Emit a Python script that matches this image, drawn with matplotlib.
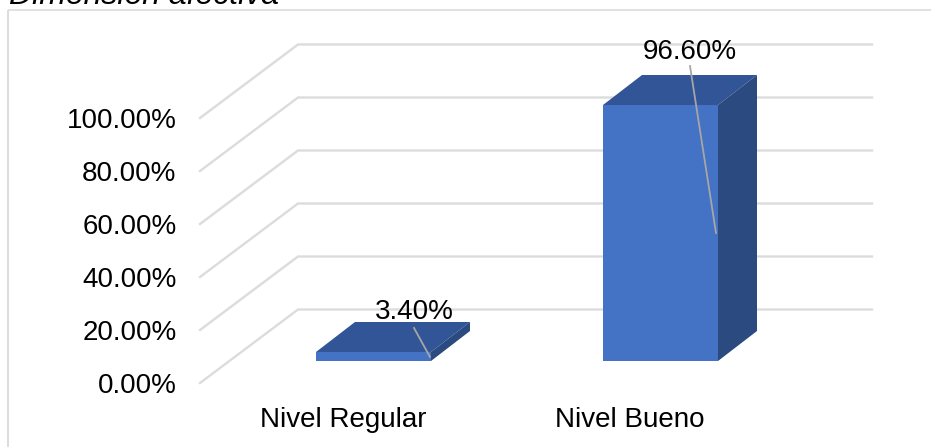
import matplotlib
matplotlib.use("Agg")
import matplotlib.pyplot as plt
from matplotlib.patches import Polygon

plt.rcParams['font.family'] = ['Liberation Sans', 'DejaVu Sans']

categories = ["Nivel Regular", "Nivel Bueno"]
values = [3.40, 96.60]
value_labels = ["3.40%", "96.60%"]
y_ticks = [0, 20, 40, 60, 80, 100]
y_tick_labels = ["0.00%", "20.00%", "40.00%", "60.00%", "80.00%", "100.00%"]
title = "Dimensión afectiva"

W, H = 931, 447
DPI = 100
fig = plt.figure(figsize=(W / DPI, H / DPI), dpi=DPI, facecolor="white")
ax = fig.add_axes([0, 0, 1, 1])
ax.axis("off")

# pixel helpers: data x = category position, data y = percent in the bars' depth plane
PX_X = 287.0      # px per category
PX_Y = 2.65       # px per percent
X0, Y0 = 373.5, 361.0
ax.set_xlim(-X0 / PX_X, (W - X0) / PX_X)
ax.set_ylim(-(H - Y0) / PX_Y, Y0 / PX_Y)

def dx(px):
    return px / PX_X

def dy(px):
    return px / PX_Y

def xpx(px):
    return (px - X0) / PX_X

def ypx(px):
    return (Y0 - px) / PX_Y

FONT = 20.0
GRID = "#dcdcdc"
FRONT = "#4472c4"
TOP = "#325597"
SIDE = "#2b4a80"

# outer frame
ax.plot([xpx(8), xpx(8)], [ypx(H + 2), ypx(9.5)], color=GRID, lw=1.4, solid_capstyle="butt")
ax.plot([xpx(8), xpx(W + 2)], [ypx(9.5), ypx(9.5)], color=GRID, lw=1.2, solid_capstyle="butt")

# title (cropped by the top edge, as in the reference)
ax.text(xpx(9), ypx(3.5), title, fontsize=23.0, style="italic", color="black",
        ha="left", va="baseline")

# gridlines: floor/wall part and back part
back_x, back_rise = 98, 73.5
front_drop = 22
for t, lab in zip(y_ticks, y_tick_labels):
    y_front = t + dy(-front_drop)
    y_back = t + dy(back_rise - front_drop)
    ax.plot([xpx(200), xpx(298), xpx(872)], [y_front, y_back, y_back],
            color=GRID, lw=1.7, solid_joinstyle="miter", zorder=1)
    ax.text(xpx(176.5), y_front, lab, fontsize=FONT,
            ha="right", va="center_baseline", color="black", zorder=5)

# 3-D bars
bar_w = 115 / PX_X
depth_x, depth_y = dx(39), dy(30)
for i, v in enumerate(values):
    l, r = i - bar_w / 2, i + bar_w / 2
    ax.bar(i, v, width=bar_w, color=FRONT, zorder=3)
    ax.add_patch(Polygon([(l, v), (r, v), (r + depth_x, v + depth_y), (l + depth_x, v + depth_y)],
                         closed=True, facecolor=TOP, edgecolor="none", zorder=3))
    ax.add_patch(Polygon([(r, 0), (r, v), (r + depth_x, v + depth_y), (r + depth_x, depth_y)],
                         closed=True, facecolor=SIDE, edgecolor="none", zorder=3))

# category labels
for i, c in enumerate(categories):
    ax.text(i - dx(30.5), ypx(417), c, fontsize=FONT, ha="center", va="center_baseline", color="black")

# value labels with leader lines
label_pos = [(414, 309), (690, 49)]
leaders = [((414, 328), (430, 357)), ((690, 66), (716, 233))]
for lab, (lx, ly), (a, b) in zip(value_labels, label_pos, leaders):
    ax.plot([xpx(a[0]), xpx(b[0])], [ypx(a[1]), ypx(b[1])], color="#a6a6a6", lw=1.3, zorder=4)
    ax.text(xpx(lx), ypx(ly), lab, fontsize=FONT, ha="center", va="center_baseline",
            color="black", zorder=5)

fig.savefig("out.png", dpi=DPI, facecolor="white")
